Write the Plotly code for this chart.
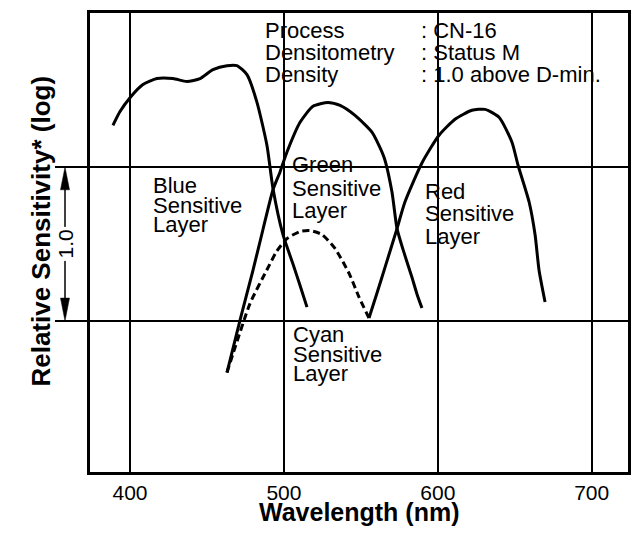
import plotly.graph_objects as go

# ---- data ----
blue_nm = [388.9, 393.5, 400.0, 408.4, 417.5, 427.9, 437.0, 445.5, 453.9, 463.0, 469.5,
           476.0, 482.5, 489.0, 492.9, 499.4, 505.9, 510.5, 515.0]
blue_v = [1.27, 1.36, 1.45, 1.535, 1.574, 1.574, 1.555, 1.574, 1.632, 1.658, 1.658,
          1.60, 1.42, 1.14, 0.86, 0.56, 0.37, 0.23, 0.09]

green_nm = [463.0, 471.5, 479.9, 486.4, 492.9, 497.5, 502.0, 510.5, 518.9, 528.7, 536.5,
            546.2, 557.2, 565.0, 570.2, 573.5, 578.0, 583.2, 586.5, 589.7]
green_v = [-0.335, 0.006, 0.329, 0.594, 0.852, 0.968, 1.097, 1.29, 1.394, 1.419, 1.40,
           1.335, 1.226, 1.065, 0.839, 0.60, 0.445, 0.284, 0.174, 0.084]

red_nm = [555.3, 560.5, 565.7, 573.5, 578.7, 589.7, 600.8, 611.2, 622.2, 630.7, 639.8,
          648.2, 652.1, 659.3, 663.2, 665.8, 669.7]
red_v = [0.019, 0.181, 0.348, 0.60, 0.774, 1.026, 1.206, 1.31, 1.368, 1.374, 1.323,
         1.161, 1.013, 0.774, 0.561, 0.329, 0.123]

cyan_nm = [463.0, 467.1, 478.0, 488.8, 495.3, 502.0, 510.5, 517.0, 524.8, 533.2, 542.3,
           548.8, 555.3]
cyan_v = [-0.335, -0.208, 0.114, 0.329, 0.452, 0.535, 0.581, 0.587, 0.561, 0.471, 0.31,
          0.155, 0.019]

x_ticks = [400, 500, 600, 700]
x_tick_labels = ["400", "500", "600", "700"]
ref_levels = [0.0, 1.0]

header_keys = ["Process", "Densitometry", "Density"]
header_vals = [": CN-16", ": Status M", ": 1.0 above D-min."]

# ---- layout constants ----
# the page body adds an 8px offset, so the figure is 8px smaller than the window
OFF = 8
W, H = 644 - OFF, 538 - OFF
PL, PR, PT, PB = 90, 628, 10, 472          # plot box in window pixels
ML, MT = PL - OFF, PT - OFF
MR, MB = W - (PR - OFF), H - (PB - OFF)
PW, PH = PR - PL, PB - PT
X_RANGE = [374.0, 723.6]
Y_RANGE = [-0.981, 2.0]
FONT = "Liberation Sans"


def px_paper_x(px):
    return (px - PL) / PW


def px_paper_y(py):
    return (PB - py) / PH


fig = go.Figure()

line_style = dict(color="black", width=3, shape="spline", smoothing=0.6)
fig.add_trace(go.Scatter(x=blue_nm, y=blue_v, mode="lines", line=line_style,
                         name="Blue", hoverinfo="skip"))
fig.add_trace(go.Scatter(x=green_nm, y=green_v, mode="lines", line=line_style,
                         name="Green", hoverinfo="skip"))
fig.add_trace(go.Scatter(x=red_nm, y=red_v, mode="lines", line=line_style,
                         name="Red", hoverinfo="skip"))
fig.add_trace(go.Scatter(x=cyan_nm, y=cyan_v, mode="lines",
                         line=dict(color="black", width=3, dash="7px,4px",
                                   shape="spline", smoothing=0.6),
                         name="Cyan", hoverinfo="skip"))

# reference levels extending left of the plot
for lv in ref_levels:
    fig.add_shape(type="line", xref="paper", yref="y", x0=px_paper_x(55), x1=1,
                  y0=lv, y1=lv, line=dict(color="black", width=2))

# double arrow for 1.0
ax_x = px_paper_x(65)
hw = 4.5 / PW
head = 23 / 155.0
fig.add_shape(type="line", xref="paper", yref="y", x0=ax_x, x1=ax_x,
              y0=ref_levels[0] + head * 0.5, y1=ref_levels[1] - head * 0.5,
              line=dict(color="black", width=1.5))
fig.add_shape(type="path", xref="paper", yref="y",
              path=f"M {ax_x},{ref_levels[1]} L {ax_x - hw},{ref_levels[1] - head} "
                   f"L {ax_x + hw},{ref_levels[1] - head} Z",
              fillcolor="black", line=dict(color="black", width=0.5))
fig.add_shape(type="path", xref="paper", yref="y",
              path=f"M {ax_x},{ref_levels[0]} L {ax_x - hw},{ref_levels[0] + head} "
                   f"L {ax_x + hw},{ref_levels[0] + head} Z",
              fillcolor="black", line=dict(color="black", width=0.5))
fig.add_annotation(xref="paper", yref="y", x=ax_x, y=0.497, text="1.0",
                   textangle=-90, showarrow=False, bgcolor="white",
                   font=dict(family=FONT, size=21, color="black"),
                   xanchor="center", yanchor="middle", borderpad=2)


def add_text(x, y, text, size=22):
    fig.add_annotation(xref="x", yref="y", x=x, y=y, text=text, showarrow=False,
                       xanchor="left", yanchor="middle", align="left",
                       font=dict(family=FONT, size=size, color="black"))


# header block
header_y = [1.887, 1.745, 1.603]
for k, v, yy in zip(header_keys, header_vals, header_y):
    add_text(486.4, yy, k)
    add_text(587.5, yy, v)

# layer labels
for txt, yy in zip(["Blue", "Sensitive", "Layer"], [0.877, 0.752, 0.626]):
    add_text(413.6, yy, txt)
for txt, yy in zip(["Green", "Sensitive", "Layer"], [1.013, 0.86, 0.72]):
    add_text(504.0, yy, txt)
for txt, yy in zip(["Red", "Sensitive", "Layer"], [0.839, 0.699, 0.548]):
    add_text(590.3, yy, txt)
for txt, yy in zip(["Cyan", "Sensitive", "Layer"], [-0.086, -0.215, -0.344]):
    add_text(504.8, yy, txt)

# axis titles
fig.add_annotation(xref="paper", yref="paper", x=px_paper_x(41), y=px_paper_y(230),
                   text="<b>Relative Sensitivity* (log)</b>", textangle=-90,
                   showarrow=False, xanchor="center", yanchor="middle",
                   font=dict(family=FONT, size=26, color="black"))
fig.add_annotation(xref="paper", yref="paper", x=0.5, y=px_paper_y(512),
                   text="<b>Wavelength (nm)</b>", showarrow=False,
                   xanchor="center", yanchor="middle",
                   font=dict(family=FONT, size=25, color="black"))

fig.update_layout(
    width=W, height=H,
    margin=dict(l=ML, r=MR, t=MT, b=MB, pad=0),
    paper_bgcolor="white", plot_bgcolor="white",
    showlegend=False,
    xaxis=dict(range=X_RANGE, tickmode="array", tickvals=x_ticks, ticktext=x_tick_labels,
               showgrid=True, gridcolor="black", gridwidth=2, zeroline=False,
               showline=True, mirror=True, linecolor="black", linewidth=3,
               ticks="", ticklen=0, ticklabelstandoff=0,
               tickfont=dict(family=FONT, size=21, color="black")),
    yaxis=dict(range=Y_RANGE, showgrid=False, zeroline=False, showticklabels=False,
               showline=True, mirror=True, linecolor="black", linewidth=3, ticks=""),
)

fig.write_html("out.html")
